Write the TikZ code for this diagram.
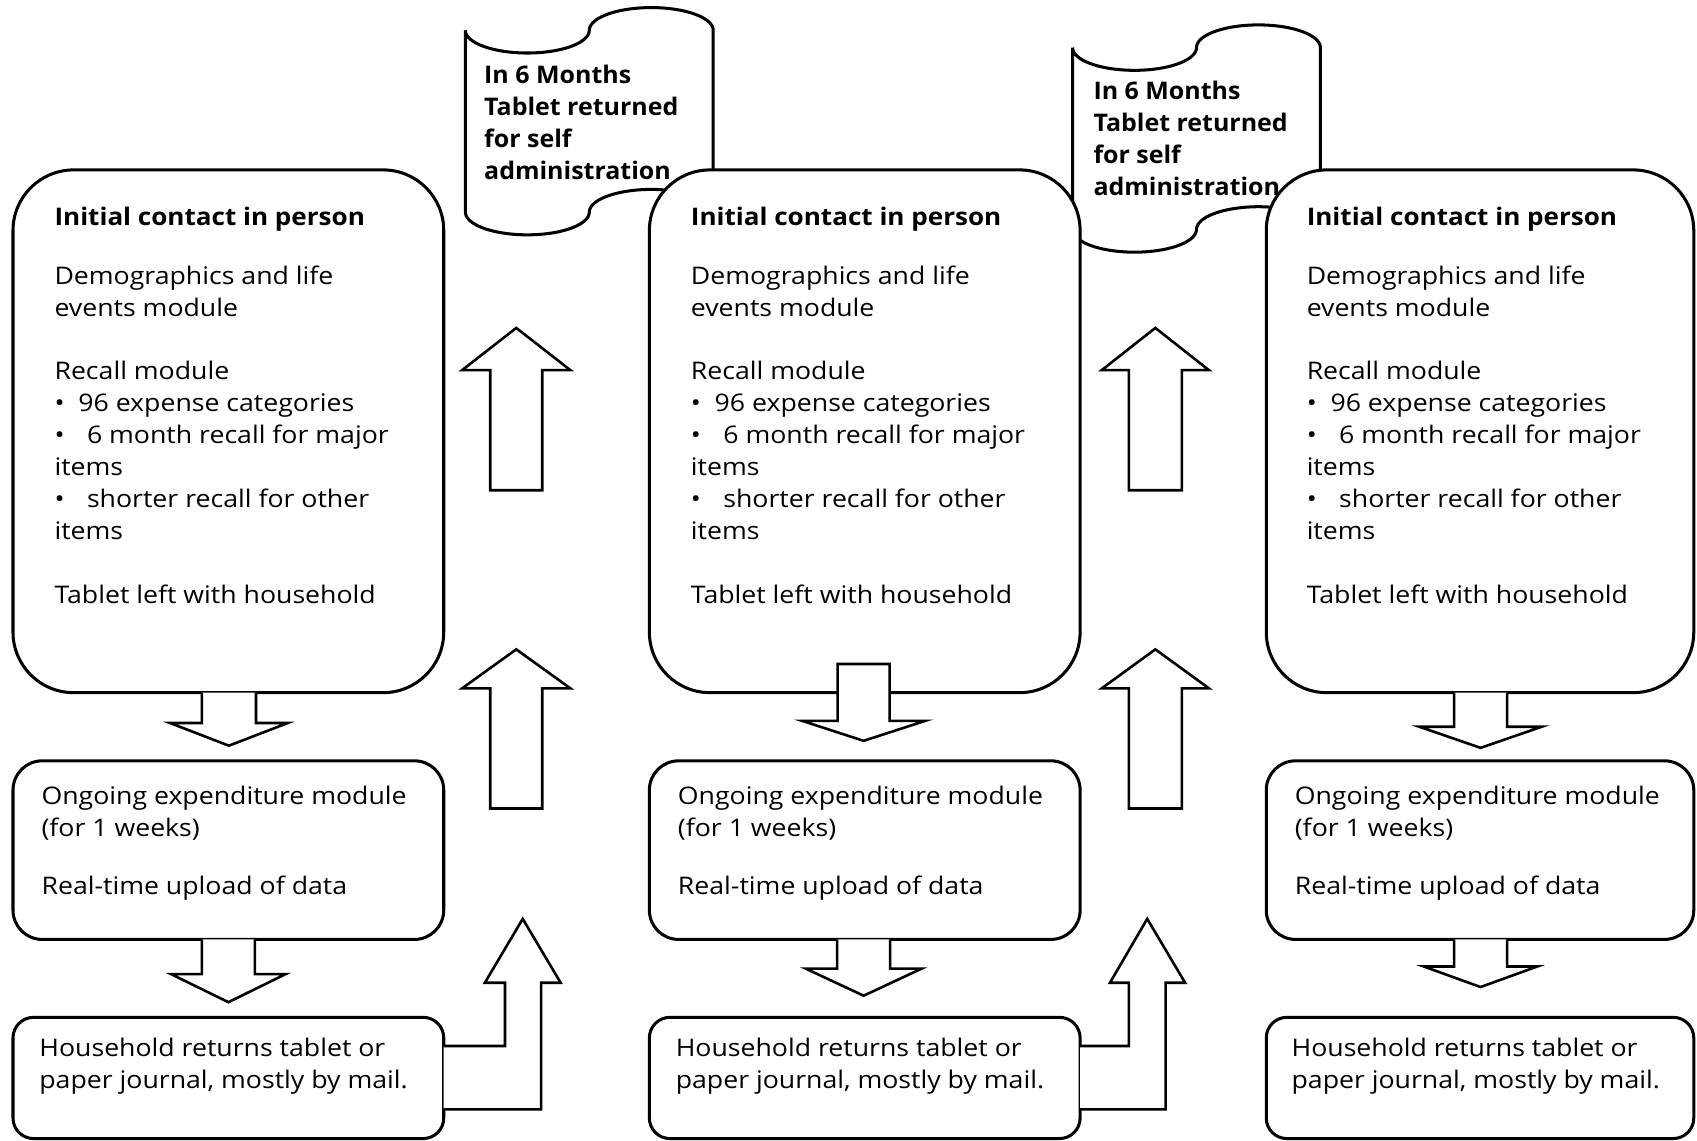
\documentclass[tikz,border=0pt]{standalone}
\usepackage{fontspec}
\setmainfont{Open Sans}[FakeStretch=1.10, BoldFeatures={FakeStretch=1.075}]
\newfontfamily\scrollfont{Open Sans}[FakeStretch=1.03]
\usetikzlibrary{calc}
\tikzset{
  box/.style={draw, line width=1.4pt, fill=white, rounded corners=#1, inner sep=0pt, outer sep=0pt},
  blk/.style={draw, line width=1.2pt, fill=white, line join=miter, miter limit=10},
  scrollshape/.style={draw, line width=1.4pt, fill=white},
  txt/.style={anchor=north west, inner sep=0pt, align=left, font=\fontsize{11.2pt}{14.75pt}\selectfont},
  btxt/.style={txt, font=\fontsize{11.2pt}{14.75pt}\selectfont\scrollfont\bfseries},
}
% open down block arrow hanging from a node: node, cx, ybase, ytip, stemhalf, headhalf
\newcommand{\openDown}[6]{\draw[blk] (#2-#5,0 |- #1.south) -- (#2-#5,#3) -- (#2-#6,#3) -- (#2,#4) -- (#2+#6,#3) -- (#2+#5,#3) -- (#2+#5,0 |- #1.south);}
% closed up block arrow: cx, ytip, ybase, ybottom, stemhalf, headhalf
\newcommand{\closedUp}[6]{\draw[blk] (#1-#5,#4) -- (#1-#5,#3) -- (#1-#6,#3) -- (#1,#2) -- (#1+#6,#3) -- (#1+#5,#3) -- (#1+#5,#4) -- cycle;}
% hook arrow from bottom box: node, yinner, xinner, xouter, youter, ybase, headleft, headright, tip
\newcommand{\hookUp}[9]{\draw[blk] (#1.east |- 0,#2) -- (#3,#2) -- (#3,#6) -- (#7,#6) -- (#9) -- (#8,#6) -- (#4,#6) -- (#4,#5) -- (#1.east |- 0,#5);}
% punched tape scroll: x0, W, ytop, ybottom, amplitude
\newcommand{\scrollpath}[5]{\draw[scrollshape]
  plot[domain=0:180, samples=40, variable=\p] ({#1+#2/4*(1-cos(\p))},{#3+#5*sin(\p)})
  -- plot[domain=180:360, samples=40, variable=\p] ({#1+3*#2/4+#2/4*cos(\p)},{#3+#5*sin(\p)})
  -- ({#1+#2},{#4})
  -- plot[domain=360:180, samples=40, variable=\p] ({#1+3*#2/4+#2/4*cos(\p)},{#4+#5*sin(\p)})
  -- plot[domain=180:0, samples=40, variable=\p] ({#1+#2/4*(1-cos(\p))},{#4+#5*sin(\p)})
  -- cycle;}
\newcommand{\bigtext}{\strut\textbf{Initial contact in person}\\[12.25pt]
Demographics and life\\
events module\\[14.75pt]
Recall module\\
\makebox[11pt][l]{\textbullet}96 expense categories\\
\makebox[15pt][l]{\textbullet}6 month recall for major\\
items\\
\makebox[15pt][l]{\textbullet}shorter recall for other\\
items\\[14.75pt]
Tablet left with household}
\newcommand{\midtext}{\strut Ongoing expenditure module\\
(for 1 weeks)\\[11.75pt]
Real-time upload of data}
\newcommand{\lowtext}{\strut Household returns tablet or\\
paper journal, mostly by mail.}
\newcommand{\scrolltext}{\strut In 6 Months\\
Tablet returned\\
for self\\
administration}
\begin{document}
\begin{tikzpicture}[x=0.5pt, y=-0.5pt]
\useasboundingbox (0,0) rectangle (1568,1054);
\fill[white] (0,0) rectangle (1568,1054);

% scrolls (behind the boxes)
\scrollpath{430}{229}{28}{196}{21}
\node[btxt] (s1) at (447,56) {\scrolltext};
\scrollpath{991}{229}{44}{212}{21}
\node[btxt] (s2) at (1010,71) {\scrolltext};

% boxes
\node[box=28pt, minimum width=199pt, minimum height=241.5pt] (a1) at (211,398.5) {};
\node[box=28pt, minimum width=199pt, minimum height=241.5pt] (a2) at (799,398.5) {};
\node[box=28pt, minimum width=197.5pt, minimum height=241.5pt] (a3) at (1367.5,398.5) {};
\node[box=13.5pt, minimum width=199pt, minimum height=82.5pt] (b1) at (211,785.5) {};
\node[box=13.5pt, minimum width=199pt, minimum height=82.5pt] (b2) at (799,785.5) {};
\node[box=13.5pt, minimum width=197.5pt, minimum height=82.5pt] (b3) at (1367.5,785.5) {};
\node[box=9.5pt, minimum width=199pt, minimum height=56pt] (c1) at (211,996) {};
\node[box=9.5pt, minimum width=199pt, minimum height=56pt] (c2) at (799,996) {};
\node[box=9.5pt, minimum width=197.5pt, minimum height=56pt] (c3) at (1367.5,996) {};

% open arrows leaving the boxes
\openDown{a1}{211.5}{668}{689}{25}{54.5}
\openDown{a3}{1368}{671.5}{691}{24.5}{56.5}
\openDown{b1}{211}{900}{926}{24.5}{53}
\openDown{b2}{798}{895}{920}{24.5}{53.5}
\openDown{b3}{1368}{893}{912}{24.5}{52.5}
\hookUp{c1}{966.5}{466.6}{500}{1025}{908}{448}{518}{483,849}
\hookUp{c2}{966.5}{1043}{1077}{1025}{908}{1025.6}{1095}{1060,849}

% texts
\node[txt] (t1) at (50,187.5) {\bigtext};
\node[txt] (t2) at (638,187.5) {\bigtext};
\node[txt] (t3) at (1207,187.5) {\bigtext};
\node[txt] (m1) at (38,722.5) {\midtext};
\node[txt] (m2) at (626,722.5) {\midtext};
\node[txt] (m3) at (1196,722.5) {\midtext};
\node[txt] (l1) at (36,955.5) {\lowtext};
\node[txt] (l2) at (624,955.5) {\lowtext};
\node[txt] (l3) at (1193,955.5) {\lowtext};

% closed arrows
\closedUp{798}{684.5}{666}{613.5}{24}{57}
\closedUp{477}{303}{342}{453}{24}{50}
\closedUp{477}{600}{636}{747}{24}{50}
\closedUp{1067.5}{303}{342}{453}{24.5}{49.5}
\closedUp{1067.5}{600}{636}{747}{24.5}{49.5}
\end{tikzpicture}
\end{document}
